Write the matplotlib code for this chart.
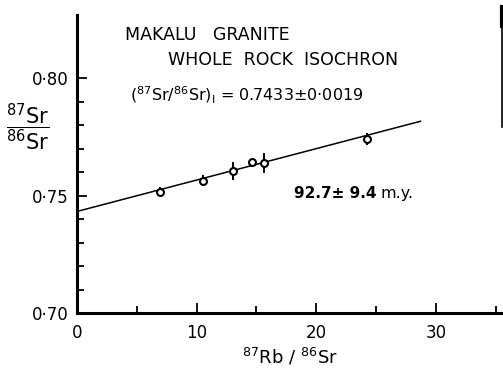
import matplotlib
matplotlib.use('Agg')
import matplotlib.pyplot as plt
from matplotlib.lines import Line2D
import numpy as np

rb_sr = [6.95, 10.5, 13.0, 14.6, 15.6, 24.2]
sr_sr = [0.7518, 0.7565, 0.7607, 0.7642, 0.7640, 0.7742]
sr_err = [0.0019, 0.0023, 0.0038, 0.0017, 0.0042, 0.0025]
intercept = 0.7433
slope = 0.00134
fit_x = [0, 28.7]
xticks = [0, 10, 20, 30]
yticks = [0.70, 0.75, 0.80]
ytick_labels = ['0·70', '0·75', '0·80']

fig = plt.figure(figsize=(5.03, 3.70), dpi=100)
ax = fig.add_axes([0.153, 0.154, 0.847, 0.805])

fx = np.array(fit_x)
ax.plot(fx, intercept + slope * fx, color='black', lw=1.1)
ax.errorbar(rb_sr, sr_sr, yerr=sr_err, fmt='o', ms=5, mfc='white', mec='black',
            mew=1.5, ecolor='black', elinewidth=1.4, capsize=0, zorder=3)

ax.set_xlim(0, 35.6)
ax.set_ylim(0.70, 0.827)
ax.spines['top'].set_visible(False)
ax.spines['right'].set_visible(False)
ax.spines['left'].set_linewidth(2.2)
ax.spines['bottom'].set_linewidth(2.2)

ax.set_xticks(xticks)
ax.set_xticks([5, 15, 25, 35], minor=True)
ax.set_yticks(yticks)
ax.set_yticklabels(ytick_labels)
ax.set_yticks(np.arange(0.70, 0.80, 0.01), minor=True)
ax.tick_params(which='both', direction='in', width=1.3, labelsize=12)
ax.tick_params(which='major', length=7)
ax.tick_params(which='minor', length=5)
ax.tick_params(axis='x', pad=8)
ax.tick_params(axis='y', pad=6)

ax.set_xlabel(r'$^{87}\mathrm{Rb}\ /\ ^{86}\mathrm{Sr}$', fontsize=13, labelpad=3)
fig.text(0.054, 0.655, r'$\dfrac{^{87}\mathrm{Sr}}{^{86}\mathrm{Sr}}$', fontsize=15,
         ha='center', va='center')

fig.text(0.248, 0.905, 'MAKALU   GRANITE', fontsize=12.5, va='center')
fig.text(0.334, 0.837, 'WHOLE  ROCK  ISOCHRON', fontsize=12.5, va='center')
fig.text(0.258, 0.743, r'$(^{87}\mathrm{Sr}/^{86}\mathrm{Sr})_{\mathrm{I}}$ = 0.7433±0·0019',
         fontsize=11.5, va='center')
fig.text(0.585, 0.478, '92.7± 9.4', fontsize=11, fontweight='bold', va='center')
fig.text(0.757, 0.478, 'm.y.', fontsize=11.5, va='center')

# edge of the neighbouring panel in the scan
fig.add_artist(Line2D([0.998, 0.998], [0.657, 0.98], color='black', lw=1.2))
fig.add_artist(Line2D([0.998, 0.998], [0.93, 0.98], color='black', lw=3))

fig.savefig('out.png', dpi=100)
